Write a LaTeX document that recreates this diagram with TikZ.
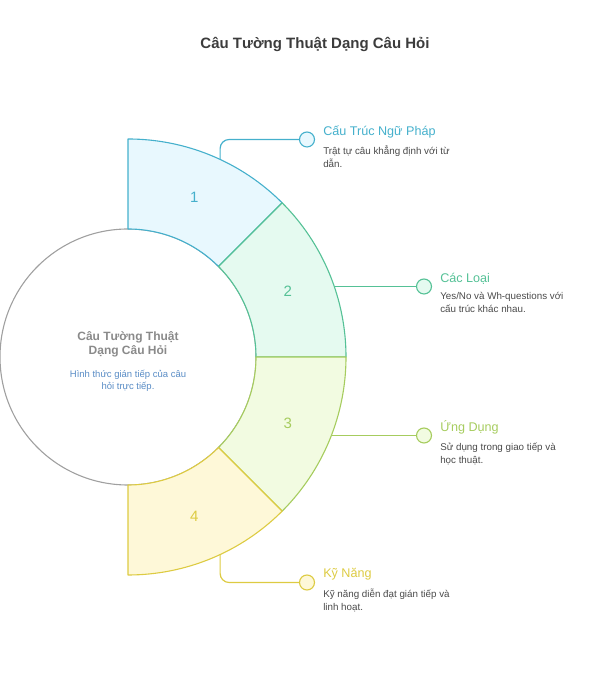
\documentclass[tikz,border=0pt]{standalone}
\usepackage{fontspec}
\setmainfont{Liberation Sans}
\usepackage{xcolor}
\usetikzlibrary{positioning}

\definecolor{lineA}{HTML}{45B0CC}
\definecolor{fillA}{HTML}{E8F8FE}
\definecolor{lineB}{HTML}{55C196}
\definecolor{fillB}{HTML}{E5FAF0}
\definecolor{lineC}{HTML}{A6CC5E}
\definecolor{fillC}{HTML}{F2FBE1}
\definecolor{lineD}{HTML}{DDCB42}
\definecolor{fillD}{HTML}{FEF8D8}
\definecolor{hubgrey}{HTML}{A0A0A0}
\definecolor{hubtitle}{HTML}{8A8A8A}
\definecolor{hubsub}{HTML}{5A8DC6}
\definecolor{titlegrey}{HTML}{3C3C3C}
\definecolor{textgrey}{HTML}{4A4A4A}

\begin{document}
\begin{tikzpicture}
      [ x=1pt, y=1pt,
        sector/.style={line width=1.1pt, line join=round},
        marker/.style={circle, draw, line width=1.1pt,
                       minimum size=15pt, inner sep=0pt},
        link/.style={line width=1.2pt, rounded corners=9pt},
        heading/.style={font=\fontsize{12.6}{15}\selectfont, inner sep=0pt},
        desc/.style={font=\fontsize{9.8}{13}\selectfont, text=textgrey,
                     align=left, inner sep=0pt},
        number/.style={font=\fontsize{15}{18}\selectfont}
      ]
      \useasboundingbox (0,0) rectangle (595,700);
      \coordinate (O) at (128,343);

      \node[font=\bfseries\fontsize{15}{18}\selectfont, text=titlegrey]
            (title) at (315,656) {Câu Tường Thuật Dạng Câu Hỏi};

      % centre circle
      \node[circle, draw=hubgrey, fill=white, line width=1.1pt,
            minimum size=256pt] (hub) at (O) {};
      \node[align=center, font=\bfseries\fontsize{12}{14}\selectfont,
            text=hubtitle] (hubtitle) at ([yshift=13pt]O)
            {Câu Tường Thuật\\Dạng Câu Hỏi};
      \node[align=center, font=\fontsize{9.5}{12}\selectfont, text=hubsub]
            (hubsub) [below=6pt of hubtitle]
            {Hình thức gián tiếp của câu\\hỏi trực tiếp.};

      % ring sectors
      \foreach \i/\a/\fc/\dc in {1/90/fillA/lineA, 2/45/fillB/lineB,
                                 3/0/fillC/lineC, 4/-45/fillD/lineD}
      {
        \filldraw[sector, fill=\fc, draw=\dc, shift={(O)}]
          (\a:218) arc[start angle=\a, end angle=\a-45, radius=218]
          -- (\a-45:128) arc[start angle=\a-45, end angle=\a, radius=128]
          -- cycle;
        \node[number, text=\dc] (n_\i) at ([shift={(\a-22.5:173)}]O) {\i};
      }

      % connectors and markers
      \coordinate (a_1) at ([shift={(65:218)}]O);
      \coordinate (a_2) at ([shift={(18.87:218)}]O);
      \coordinate (a_3) at ([shift={(-21.1:218)}]O);
      \coordinate (a_4) at ([shift={(-65:218)}]O);

      \node[marker, draw=lineA, fill=fillA] (m_1) at (307,560.5) {};
      \node[marker, draw=lineB, fill=fillB] (m_2) at (424,413.5) {};
      \node[marker, draw=lineC, fill=fillC] (m_3) at (424,264.5) {};
      \node[marker, draw=lineD, fill=fillD] (m_4) at (307,117.5) {};

      \draw[link, lineA] (a_1) |- (m_1);
      \draw[link, lineB] (a_2) -- (a_2 -| m_2.west);
      \draw[link, lineC] (a_3) -- (a_3 -| m_3.west);
      \draw[link, lineD] (a_4) |- (m_4);

      % labels
      \node[heading, text=lineA, right=8pt of m_1, yshift=8pt] (h_1)
            {Cấu Trúc Ngữ Pháp};
      \node[desc] (d_1) [below right=8pt and 0pt of h_1.south west]
            {Trật tự câu khẳng định với từ\\dẫn.};

      \node[heading, text=lineB, right=8pt of m_2, yshift=8pt] (h_2)
            {Các Loại};
      \node[desc] (d_2) [below right=8pt and 0pt of h_2.south west]
            {Yes/No và Wh-questions với\\cấu trúc khác nhau.};

      \node[heading, text=lineC, right=8pt of m_3, yshift=8pt] (h_3)
            {Ứng Dụng};
      \node[desc] (d_3) [below right=8pt and 0pt of h_3.south west]
            {Sử dụng trong giao tiếp và\\học thuật.};

      \node[heading, text=lineD, right=8pt of m_4, yshift=8pt] (h_4)
            {Kỹ Năng};
      \node[desc] (d_4) [below right=8pt and 0pt of h_4.south west]
            {Kỹ năng diễn đạt gián tiếp và\\linh hoạt.};
\end{tikzpicture}
\end{document}
